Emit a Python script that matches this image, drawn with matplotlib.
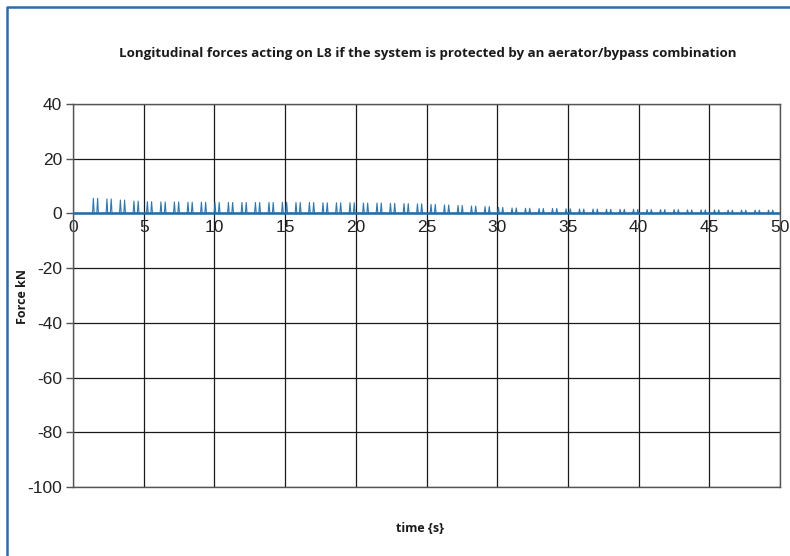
import numpy as np
import matplotlib
matplotlib.use("Agg")
import matplotlib.pyplot as plt
from matplotlib.lines import Line2D

plt.rcParams["axes.unicode_minus"] = False

# ---- data ----
title = "Longitudinal forces acting on L8 if the system is protected by an aerator/bypass combination"
x_label = "time {s}"
y_label = "Force kN"
x_ticks = [0, 5, 10, 15, 20, 25, 30, 35, 40, 45, 50]
y_ticks = [40, 20, 0, -20, -40, -60, -80, -100]

# start time (s) of each double pulse
pulse_times = [1.44, 2.40, 3.35, 4.31, 5.26, 6.22, 7.17, 8.13, 9.08, 10.04,
               10.99, 11.95, 12.90, 13.86, 14.81, 15.77, 16.72, 17.68, 18.63, 19.59,
               20.54, 21.50, 22.45, 23.41, 24.36, 25.32, 26.27, 27.23, 28.18, 29.14,
               30.09, 31.05, 32.00, 32.96, 33.91, 34.87, 35.82, 36.78, 37.73, 38.69,
               39.64, 40.60, 41.55, 42.51, 43.46, 44.42, 45.37, 46.33, 47.28, 48.24,
               49.19]
# peak force (kN) of each double pulse
pulse_peaks = [5.5, 5.3, 4.9, 4.5, 4.3, 4.2, 4.2, 4.1, 4.1, 4.0,
               4.0, 4.0, 4.0, 4.0, 4.1, 4.0, 4.0, 3.9, 3.9, 3.9,
               3.8, 3.8, 3.7, 3.6, 3.5, 3.3, 3.1, 2.9, 2.7, 2.5,
               2.2, 2.0, 1.9, 1.8, 1.8, 1.7, 1.6, 1.6, 1.5, 1.5,
               1.5, 1.4, 1.4, 1.4, 1.3, 1.3, 1.3, 1.2, 1.2, 1.2,
               1.2]
t_end = 50.0

# ---- build polyline from pulse list ----
gap = 0.30     # separation of the two peaks of a pulse
half = 0.06    # half base-width of one peak
ts = [0.0]
fs = [0.0]
for t0, a in zip(pulse_times, pulse_peaks):
    for tp in (t0, t0 + gap):
        ts += [tp - half, tp, tp + half]
        fs += [0.0, a, 0.0]
ts.append(t_end)
fs.append(0.0)

W, H = 790, 556
fig = plt.figure(figsize=(W / 100, H / 100), dpi=100)
ax = fig.add_axes([73 / W, 1 - 487 / H, (780 - 73) / W, (487 - 104) / H])

ax.plot(ts, fs, color="#2a78b8", lw=0.8, zorder=3)
ax.plot([0, t_end], [0, 0], color="#1f6fb0", lw=1.8, zorder=3)

ax.set_xlim(0, 50)
ax.set_ylim(-100, 40)
ax.set_xticks(x_ticks)
ax.set_yticks(y_ticks)
ax.grid(True, color="#1a1a1a", lw=0.9)
ax.set_axisbelow(True)

for s in ["top", "right", "bottom"]:
    ax.spines[s].set_visible(False)
ax.spines["left"].set_color("#555555")
ax.spines["left"].set_linewidth(1.0)
ax.spines["bottom"].set_position(("data", 0))

# outer frame lines at the limits (gridlines at the edges get clipped)
ax.plot([0, 50], [-100, -100], color="#555555", lw=1.0, clip_on=False, zorder=2)
ax.plot([50, 50], [-100, 40], color="#555555", lw=1.0, clip_on=False, zorder=2)
ax.plot([0, 50], [40, 40], color="#555555", lw=1.0, clip_on=False, zorder=2)

ax.tick_params(axis="y", direction="out", length=5, width=1, color="#555555",
               labelsize=12.5, pad=3, labelcolor="#222222")
ax.tick_params(axis="x", length=0, labelsize=12.5, pad=5, labelcolor="#222222")
for lab in ax.get_xticklabels() + ax.get_yticklabels():
    lab.set_fontfamily("Liberation Sans")

fig.text(428 / W, 1 - 53 / H, title, ha="center", va="center",
         fontsize=9.6, fontweight="bold", family="Open Sans", color="#1a1a1a")
fig.text(420 / W, 1 - 528 / H, x_label, ha="center", va="center",
         fontsize=9, fontweight="bold", family="Open Sans", color="#1a1a1a")
fig.text(22 / W, 1 - 296 / H, y_label, ha="center", va="center", rotation=90,
         fontsize=9, fontweight="bold", family="Open Sans", color="#1a1a1a")

# figure border (left and top)
bx, by = 6.5 / W, 1 - 6.5 / H
fig.add_artist(Line2D([bx, bx, 1], [0, by, by], transform=fig.transFigure,
                      color="#2a6cb3", lw=1.8))

fig.savefig("out.png", dpi=100)
